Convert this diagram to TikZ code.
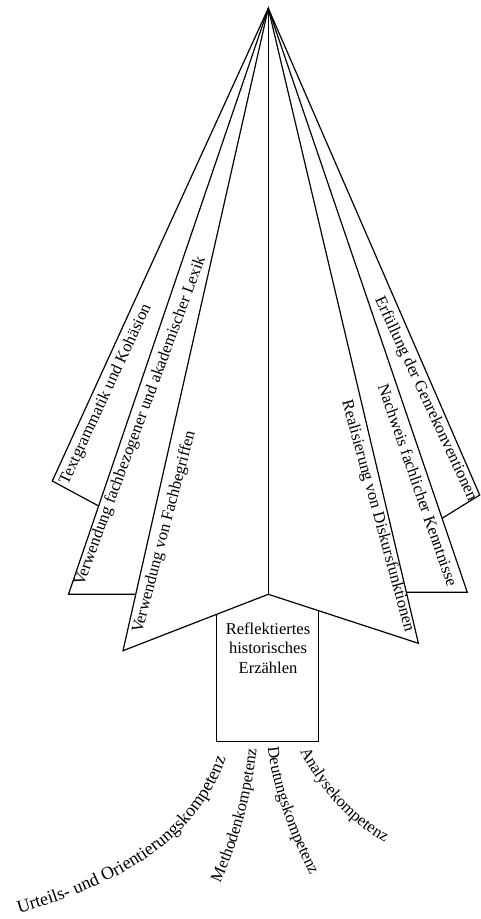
\documentclass[tikz,border=0pt]{standalone}
\usepackage{fontspec}
\setmainfont{Liberation Serif}
\usetikzlibrary{calc,decorations.text}
\tikzset{
  edge/.style={line width=1.2pt, line join=miter},
  lbl/.style={font=\fontsize{16.5}{19.5}\selectfont, inner sep=0pt},
}
\newcommand{\cfont}{\fontsize{16.5}{19.5}\selectfont}
\newcommand{\ufont}{\fontsize{18}{20}\selectfont}
\begin{document}
\begin{tikzpicture}[x=1pt,y=-1pt]
\useasboundingbox (0,0) rectangle (480,919);
% key points
\coordinate (O) at (268.3,8.3);
\coordinate (A1) at (52.3,481);
\coordinate (A2) at (68.5,594.3);
\coordinate (A3) at (123,650.7);
\coordinate (C) at (268.3,594.3);
\coordinate (D3) at (418.4,643.3);
\coordinate (D2) at (467.3,592.3);
\coordinate (D1) at (479.7,495);
\coordinate (B1) at ($(O)!0.8493!(A2)$);
\coordinate (B2) at ($(O)!0.9122!(A3)$);
\coordinate (B3) at ($(O)!0.9197!(D3)$);
\coordinate (B4) at ($(O)!0.8733!(D2)$);
\coordinate (TL) at (216.7,614.3);
\coordinate (TR) at (318.3,610.6);
\coordinate (BL) at (216.7,741.7);
\coordinate (BR) at (318.3,741.7);
% strips
\draw[edge] (O) -- (A1) -- (B1);
\draw[edge] (O) -- (A2) -- (B2);
\draw[edge] (O) -- (A3) -- (TL) -- (C) -- (TR) -- (D3) -- cycle;
\draw[edge] (O) -- (C);
\draw[edge] (B3) -- (D2) -- (O);
\draw[edge] (B4) -- (D1) -- (O);
% box
\draw[edge] (TL) -- (BL) -- (BR) -- (TR);
\node[lbl, align=center] (box) at (268,648) {Reflektiertes\\historisches\\Erzählen};
% strip labels
\node[lbl, rotate=65] (s1) at (106,394.5) {Textgrammatik und Kohäsion};
\node[lbl, rotate=69.6] (s2) at (140.5,421.5) {Verwendung fachbezogener und akademischer Lexik};
\node[lbl, rotate=75.2] (s3) at (164.5,532) {Verwendung von Fachbegriffen};
\node[lbl, rotate=-65] (s4) at (425.5,399) {Erfüllung der Genrekonventionen};
\node[lbl, rotate=-70.8] (s5) at (418,485) {Nachweis fachlicher Kenntnisse};
\node[lbl, rotate=-74.7] (s6) at (377.5,515.8) {Realisierung von Diskursfunktionen};
% curved labels
\path[decorate, decoration={text along path, text={|\ufont|Urteils- und Orientierungskompetenz}}]
  (19,913) .. controls (110,887) and (203,845) .. (230,745);
\path[decorate, decoration={text along path, text={|\cfont|Methodenkompetenz}}]
  (220,883) .. controls (240,840) and (253,790) .. (257,745);
\path[decorate, decoration={text along path, text={|\cfont|Deutungskompetenz}}]
  (268,747) .. controls (272,790) and (292,840) .. (314,882);
\path[decorate, decoration={text along path, text={|\cfont|Analysekompetenz}}]
  (300,751) .. controls (320,790) and (350,825) .. (392,846);
\end{tikzpicture}
\end{document}
